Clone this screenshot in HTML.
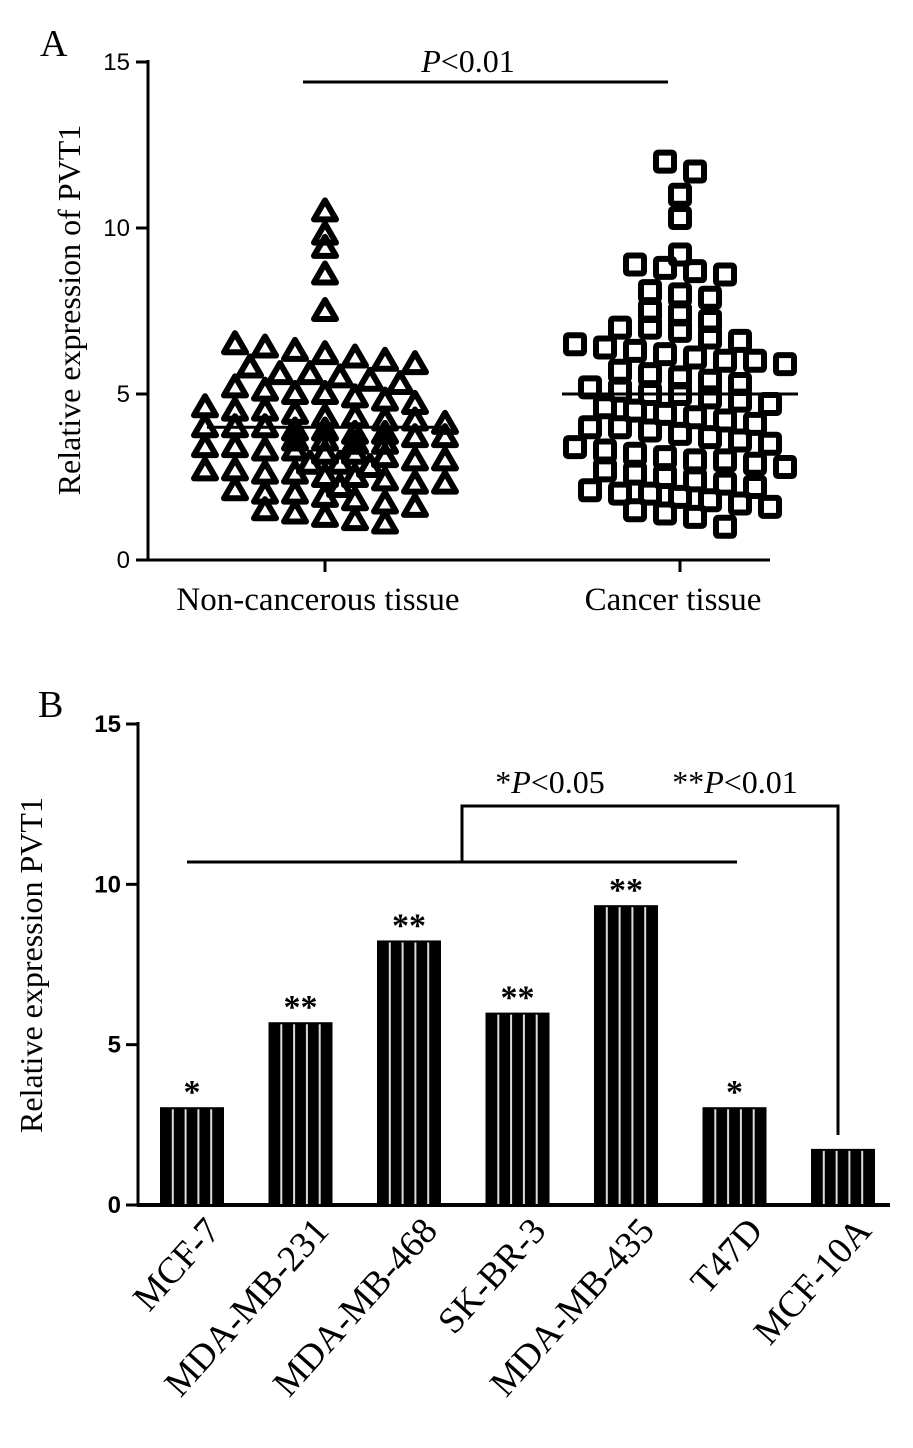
<!DOCTYPE html>
<html><head><meta charset="utf-8"><style>
html,body{margin:0;padding:0;background:#fff;}
svg{display:block;}
text{font-family:"Liberation Serif",serif;fill:#000;}
.tk{font-family:"Liberation Sans",sans-serif;font-size:24px;}
</style></head><body>
<svg id="chart" width="913" height="1448" viewBox="0 0 913 1448">
<g id="pa"></g>
<g id="pb"></g>
</svg>
<script>
// Panel A data
const groupsA = ["Non-cancerous tissue", "Cancer tissue"];
const nonCancer = [10.5,9.8,9.4,8.6,7.5,6.5,6.4,6.3,6.2,6.1,6.0,5.9,5.8,5.6,5.6,5.5,5.4,5.3,5.2,5.1,5.0,5.0,4.9,4.8,4.7,4.6,4.5,4.5,4.4,4.3,4.3,4.2,4.2,4.1,4.0,4.0,4.0,3.9,3.9,3.8,3.8,3.7,3.7,3.6,3.6,3.5,3.5,3.4,3.4,3.3,3.3,3.2,3.2,3.1,3.0,3.0,2.9,2.9,2.8,2.7,2.7,2.6,2.6,2.5,2.5,2.4,2.3,2.3,2.2,2.1,2.0,2.0,1.9,1.8,1.7,1.6,1.5,1.4,1.3,1.2,1.1];
const cancer = [12.0,11.7,11.0,10.3,9.2,8.9,8.8,8.7,8.6,8.1,8.0,7.9,7.5,7.4,7.2,7.0,7.0,6.9,6.7,6.6,6.5,6.4,6.3,6.2,6.1,6.0,6.0,5.9,5.7,5.6,5.5,5.4,5.3,5.2,5.1,5.0,5.0,4.9,4.8,4.7,4.6,4.5,4.4,4.3,4.2,4.1,4.0,4.0,3.9,3.8,3.7,3.6,3.5,3.4,3.3,3.2,3.1,3.0,3.0,2.9,2.8,2.7,2.6,2.5,2.4,2.3,2.2,2.1,2.0,2.0,1.9,1.8,1.7,1.6,1.5,1.4,1.3,1.0];
const meansA = [4.0, 5.0];
const ticksA = [0,5,10,15];
// Panel B data
const cells = ["MCF-7","MDA-MB-231","MDA-MB-468","SK-BR-3","MDA-MB-435","T47D","MCF-10A"];
const expr = [3.05,5.7,8.25,6.0,9.35,3.05,1.75];
const stars = ["*","**","**","**","**","*",""];
const ticksB = [0,5,10,15];

const NS="http://www.w3.org/2000/svg";
function mk(tag, attrs, parent, txt){const e=document.createElementNS(NS,tag);for(const k in attrs)e.setAttribute(k,attrs[k]);if(txt!==undefined)e.textContent=txt;parent.appendChild(e);return e;}
const pa=document.getElementById('pa'), pb=document.getElementById('pb');

// ---- Panel A ----
const yA=v=>560-v*(498/15);
const xA=i=>[325,680][i];
let t=mk('text',{x:40,y:56,'font-size':38},pa,'A');


let ax=mk('line',{x1:148,y1:yA(15)-2,x2:148,y2:561,stroke:'#000','stroke-width':3},pa);


ax=mk('line',{x1:147,y1:560,x2:770,y2:560,stroke:'#000','stroke-width':3},pa);


ticksA.forEach(v=>{
  let l=mk('line',{x1:136,x2:148,y1:yA(v),y2:yA(v),stroke:'#000','stroke-width':3},pa);
  
  
  let tt=mk('text',{x:130,y:yA(v)+8,'text-anchor':'end',class:'tk'},pa,String(v));
  
  
});
groupsA.forEach((g,i)=>{
  let l=mk('line',{x1:xA(i),x2:xA(i),y1:560,y2:572,stroke:'#000','stroke-width':3},pa);
  
  
  let tt=mk('text',{x:xA(i)-7,y:610,'text-anchor':'middle','font-size':33},pa,g);
  
  
});
t=mk('text',{x:80,y:310,'text-anchor':'middle','font-size':32,transform:'rotate(-90 80 310)'},pa,'Relative expression of PVT1');


let sl=mk('line',{x1:303,x2:668,y1:82,y2:82,stroke:'#000','stroke-width':3},pa);


t=mk('text',{x:468,y:72,'text-anchor':'middle','font-size':32},pa);


mk('tspan',{'font-style':'italic'},t,'P');mk('tspan',{},t,'<0.01');

function swarm(vals, cx){
  const bins={};
  vals.forEach(v=>{const b=Math.round(v/0.62);(bins[b]=bins[b]||[]).push(v);});
  const pts=[];
  Object.keys(bins).forEach(b=>{
    const arr=bins[b];const n=arr.length;
    arr.forEach((v,k)=>{
      const row=Math.floor(k/9), kk=k%9, nn=Math.min(9,n-row*9);
      const off=(kk-(nn-1)/2)*30+(row%2?15:0);
      pts.push([cx+off,v]);
    });
  });
  return pts;
}
swarm(nonCancer,xA(0)).forEach(p=>{
  const x=p[0],y=yA(p[1]);
  let m=mk('polygon',{points:`${x},${y-11} ${x+11},${y+8} ${x-11},${y+8}`,fill:'none',stroke:'#000','stroke-width':6,'stroke-linejoin':'round'},pa);
  
  
});
swarm(cancer,xA(1)).forEach(p=>{
  const x=p[0],y=yA(p[1]);
  let m=mk('rect',{x:x-9,y:y-9,width:18,height:18,rx:2,fill:'none',stroke:'#000','stroke-width':6},pa);
  
  
});
meansA.forEach((v,i)=>{
  let l=mk('line',{x1:xA(i)-118,x2:xA(i)+118,y1:yA(v),y2:yA(v),stroke:'#000','stroke-width':3},pa);
  
  
});

// ---- Panel B ----
const yB=v=>1205-v*(481/15);
const xB=i=>192+i*108.5;
const bw=64;
t=mk('text',{x:38,y:717,'font-size':38},pb,'B');


ax=mk('line',{x1:138,y1:yB(15)-2,x2:138,y2:1206,stroke:'#000','stroke-width':3},pb);


ax=mk('line',{x1:137,y1:1205,x2:890,y2:1205,stroke:'#000','stroke-width':4},pb);


ticksB.forEach(v=>{
  let l=mk('line',{x1:126,x2:138,y1:yB(v),y2:yB(v),stroke:'#000','stroke-width':3},pb);
  
  
  let tt=mk('text',{x:121,y:yB(v)+8,'text-anchor':'end',class:'tk','font-weight':'bold'},pb,String(v));
  
  
});
t=mk('text',{x:42,y:965,'text-anchor':'middle','font-size':32,transform:'rotate(-90 42 965)'},pb,'Relative expression PVT1');


cells.forEach((c,i)=>{
  const x0=xB(i)-bw/2, y0=yB(expr[i]);
  let b=mk('rect',{x:x0,y:y0,width:bw,height:1205-y0,fill:'#000'},pb);
  
  
  for(let k=1;k<=4;k++){
    let s=mk('line',{x1:x0+k*bw/5,x2:x0+k*bw/5,y1:y0+2,y2:1204,stroke:'#ddd','stroke-width':2},pb);
    
    
  }
  if(stars[i]){
    let st=mk('text',{x:xB(i),y:y0-4,'text-anchor':'middle','font-size':34,'font-weight':'bold','font-family':'Liberation Sans'},pb,stars[i]);
    
    
  }
  const lx=xB(i)+30, ly=1232;
  let tt=mk('text',{x:lx,y:ly,'text-anchor':'end','font-size':37,transform:`rotate(-48 ${lx} ${ly})`},pb,c);
  
  
});
sl=mk('line',{x1:187,x2:737,y1:862,y2:862,stroke:'#000','stroke-width':3},pb);


sl=mk('polyline',{points:'462,862 462,806 838,806 838,1135',fill:'none',stroke:'#000','stroke-width':3},pb);


t=mk('text',{x:550,y:793,'text-anchor':'middle','font-size':32},pb);


mk('tspan',{},t,'*');mk('tspan',{'font-style':'italic'},t,'P');mk('tspan',{},t,'<0.05');
t=mk('text',{x:735,y:793,'text-anchor':'middle','font-size':32},pb);


mk('tspan',{},t,'**');mk('tspan',{'font-style':'italic'},t,'P');mk('tspan',{},t,'<0.01');
</script>
</body></html>
